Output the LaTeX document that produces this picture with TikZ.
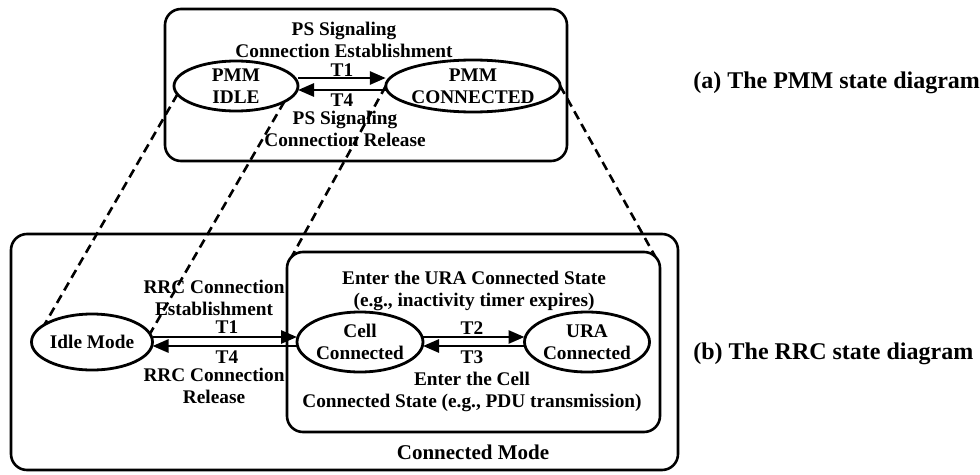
\documentclass[tikz,border=0pt]{standalone}
\usepackage{fontspec}
\setmainfont{Liberation Serif}
\usetikzlibrary{shapes.geometric,arrows.meta,calc}

\begin{document}
\begin{tikzpicture}[x=1pt,y=-1pt,
  every node/.style={font=\fontsize{19.3}{22}\selectfont\bfseries,outer sep=0pt},
  caption/.style={font=\fontsize{24}{28}\selectfont\bfseries},
  state/.style={ellipse,draw,line width=2.8pt,inner sep=0pt,align=center},
  frame/.style={rectangle,draw,line width=2.6pt,rounded corners=16pt,inner sep=0pt},
  label/.style={align=center,inner sep=0pt},
  trans/.style={line width=2.8pt,-{Triangle[length=16pt,width=13pt]}},
  proj/.style={line width=2.6pt,dash pattern=on 9pt off 5.5pt}]

\useasboundingbox (0,0) rectangle (980,474);

% PMM state diagram
\node[frame,minimum width=402,minimum height=152] (pmmbox) at (366,85) {};
\node[state,minimum width=124,minimum height=50] (pidle) at (236,86) {PMM\\IDLE};
\node[state,minimum width=167,minimum height=52] (pconn) at (473,86) {PMM\\CONNECTED};
\draw[trans] ([yshift=8pt]pidle.east) -- ([yshift=8pt]pconn.west);
\draw[trans] ([yshift=-4pt]pconn.west) -- ([yshift=-4pt]pidle.east);
\node[label] (pest) at (344,40) {PS Signaling\\Connection Establishment};
\node[label] (pt1) at (342,70) {T1};
\node[label] (pt4) at (342,100) {T4};
\node[label] (prel) at (345,129) {PS Signaling\\Connection Release};
\node[caption,anchor=west] (capa) at (690,83) {(a) The PMM state diagram};

% RRC state diagram
\node[frame,minimum width=667,minimum height=236] (rrcbox) at (344.5,352) {};
\node[frame,minimum width=373,minimum height=180] (connbox) at (473.5,342) {};
\node[state,minimum width=121,minimum height=56] (idle) at (92,342) {Idle Mode};
\node[state,minimum width=126,minimum height=60] (cell) at (360,342) {Cell\\Connected};
\node[state,minimum width=125,minimum height=60] (ura) at (587,342) {URA\\Connected};
\draw[trans] ([yshift=5pt]idle.east) -- ([yshift=5pt]cell.west);
\draw[trans] ([yshift=-4pt]cell.west) -- ([yshift=-4pt]idle.east);
\draw[trans] ([yshift=5pt]cell.east) -- ([yshift=5pt]ura.west);
\draw[trans] ([yshift=-4pt]ura.west) -- ([yshift=-4pt]cell.east);
\node[label] (rest) at (214,298) {RRC Connection\\Establishment};
\node[label] (rt1) at (227,327) {T1};
\node[label] (rt4) at (227,357) {T4};
\node[label] (rrel) at (214,386) {RRC Connection\\Release};
\node[label] (uent) at (474,291) {Enter the URA Connected State\\(e.g., inactivity timer expires)};
\node[label] (rt2) at (472,328) {T2};
\node[label] (rt3) at (472,357) {T3};
\node[label] (cent) at (472,392) {Enter the Cell\\Connected State (e.g., PDU transmission)};
\node[label,font=\fontsize{21}{24}\selectfont\bfseries] (cmode) at (473,452) {Connected Mode};
\node[caption,anchor=west] (capb) at (690,354) {(b) The RRC state diagram};

% projections from PMM states onto RRC states
\draw[proj] (pidle.188) -- (idle.160);
\draw[proj] (pidle.-18) -- (idle.8);
\draw[proj] (pconn.west) -- ($(connbox.north west)+(4.7,4.7)$);
\draw[proj] (pconn.east) -- ($(connbox.north east)+(-4.7,4.7)$);
\end{tikzpicture}
\end{document}
